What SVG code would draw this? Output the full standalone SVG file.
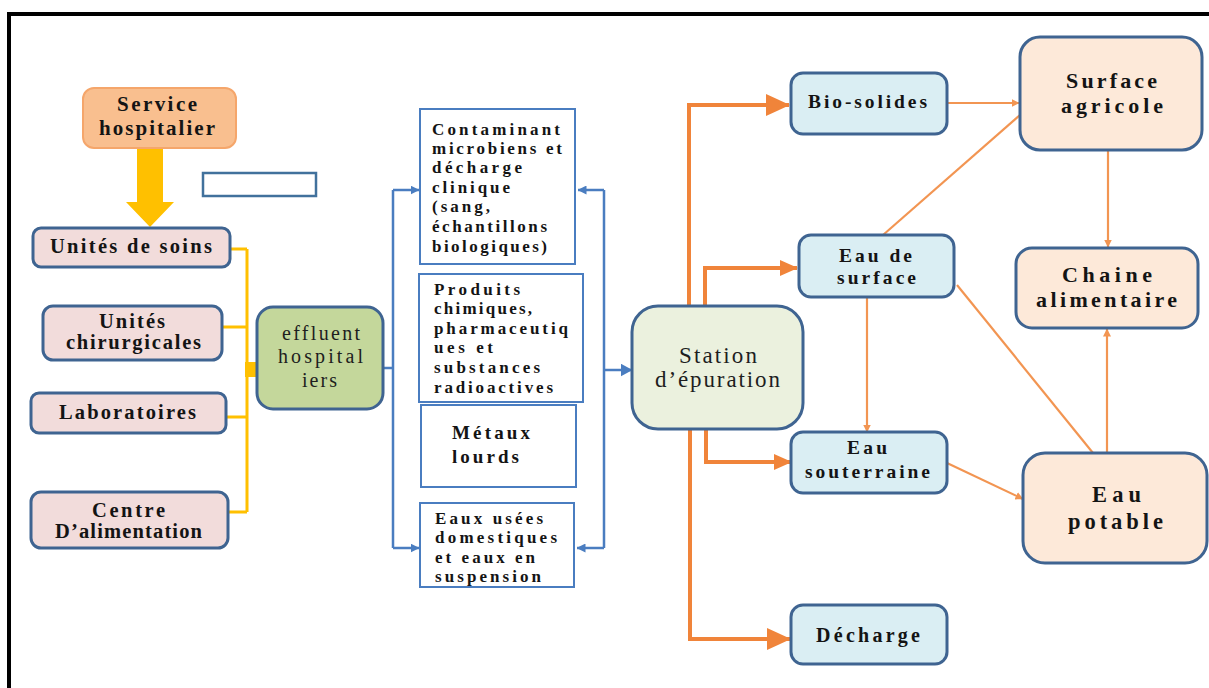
<svg xmlns="http://www.w3.org/2000/svg" width="1209" height="688" viewBox="0 0 1209 688">
<style>
.t{font-family:"Liberation Serif","Times New Roman",serif;font-weight:bold;fill:#141414;}
.n{font-family:"Liberation Serif","Times New Roman",serif;font-weight:normal;fill:#1e1e1e;}
.src{fill:#F2DCDB;stroke:#3F6491;stroke-width:3;}
.blu{fill:#DAEEF3;stroke:#3F6491;stroke-width:3;}
.pch{fill:#FDE9D9;stroke:#3F6491;stroke-width:3;}
.cat{fill:#FFFFFF;stroke:#4A7DC0;stroke-width:2;}
.yl{stroke:#FFC000;stroke-width:3;fill:none;}
.bl{stroke:#4A7DC0;stroke-width:2.5;fill:none;}
.ob{stroke:#F0843A;stroke-width:4;fill:none;}
.ot{stroke:#F29552;stroke-width:2.2;fill:none;}
</style>
<defs>
<marker id="mBig" markerUnits="userSpaceOnUse" markerWidth="24" markerHeight="24" viewBox="0 0 24 24" refX="23" refY="12" orient="auto"><path d="M0,1 L24,12 L0,23 z" fill="#F0843A"/></marker>
<marker id="mMed" markerUnits="userSpaceOnUse" markerWidth="18" markerHeight="16" viewBox="0 0 18 16" refX="17" refY="8" orient="auto"><path d="M0,0 L18,8 L0,16 z" fill="#F0843A"/></marker>
<marker id="mSm" markerUnits="userSpaceOnUse" markerWidth="8" markerHeight="8" viewBox="0 0 8 8" refX="7.5" refY="4" orient="auto"><path d="M0,0 L8,4 L0,8 z" fill="#F29552"/></marker>
<marker id="mBl" markerUnits="userSpaceOnUse" markerWidth="9" markerHeight="9" viewBox="0 0 9 9" refX="8.5" refY="4.5" orient="auto"><path d="M0,0 L9,4.5 L0,9 z" fill="#4A7DC0"/></marker>
<marker id="mBlBig" markerUnits="userSpaceOnUse" markerWidth="12" markerHeight="13" viewBox="0 0 12 13" refX="11.5" refY="6.5" orient="auto"><path d="M0,0 L12,6.5 L0,13 z" fill="#4A7DC0"/></marker>
</defs>
<rect x="0" y="0" width="1209" height="688" fill="#FFFFFF"/>
<rect x="9" y="14" width="1240" height="720" fill="none" stroke="#000" stroke-width="4"/>

<g id="connectors">
  <polygon points="137,148 163,148 163,202 174,202 150,227 126,202 137,202" fill="#FFC000"/>
  <path class="yl" d="M229,249 H247 M222,327 H247 M226,417 H247 M228,512 H247 M247,249 V512"/>
  <rect x="245" y="362" width="12" height="15" fill="#FFC000"/>
  <path class="bl" d="M383,368 H393 M393,190 V548 M604,190 V548"/>
  <path class="bl" d="M393,190 H419" marker-end="url(#mBl)"/>
  <path class="bl" d="M393,548 H419" marker-end="url(#mBl)"/>
  <path class="bl" d="M604,190 H578" marker-end="url(#mBl)"/>
  <path class="bl" d="M604,548 H577" marker-end="url(#mBl)"/>
  <path class="bl" d="M604,370 H632" stroke-width="4" marker-end="url(#mBlBig)"/>
  <path class="ob" d="M689,306 V105 H789" marker-end="url(#mBig)"/>
  <path class="ob" d="M705,306 V268 H797" marker-end="url(#mMed)"/>
  <path class="ob" d="M706,429 V462 H791" marker-end="url(#mMed)"/>
  <path class="ob" d="M690,429 V639 H790" marker-end="url(#mBig)"/>
  <path class="ot" d="M947,103 H1019" marker-end="url(#mSm)"/>
  <path class="ot" d="M883,235 L1020,115"/>
  <path class="ot" d="M957,285 L1093,453"/>
  <path class="ot" d="M947,463 L1023,499" marker-end="url(#mSm)"/>
  <path class="ot" d="M1108,150 V247" marker-end="url(#mSm)"/>
  <path class="ot" d="M1107,453 V329" marker-end="url(#mSm)"/>
  <path class="ot" d="M867,297 V432" marker-end="url(#mSm)"/>
</g>

<g id="service">
  <rect x="83" y="88" width="153" height="60" rx="11" fill="#F9BF8F" stroke="#F5A66B" stroke-width="2"/>
  <text class="t" x="117" y="111" font-size="21" textLength="80" lengthAdjust="spacing">Service</text>
  <text class="t" x="99" y="135" font-size="21" textLength="116" lengthAdjust="spacing">hospitalier</text>
</g>
<g id="blank">
  <rect x="203" y="173" width="113" height="23" fill="#FFFFFF" stroke="#41719C" stroke-width="2.5"/>
</g>
<g id="soins">
  <rect class="src" x="33" y="228" width="197" height="39" rx="8"/>
  <text class="t" x="50" y="253" font-size="20.5" textLength="162" lengthAdjust="spacing">Unités de soins</text>
</g>
<g id="chirurgicales">
  <rect class="src" x="43" y="306" width="179" height="54" rx="10"/>
  <text class="t" x="99" y="328" font-size="20.5" textLength="66" lengthAdjust="spacing">Unités</text>
  <text class="t" x="66" y="349" font-size="20.5" textLength="135" lengthAdjust="spacing">chirurgicales</text>
</g>
<g id="laboratoires">
  <rect class="src" x="31" y="393" width="195" height="40" rx="8"/>
  <text class="t" x="59" y="419" font-size="20.5" textLength="137" lengthAdjust="spacing">Laboratoires</text>
</g>
<g id="alimentation">
  <rect class="src" x="31" y="492" width="197" height="56" rx="10"/>
  <text class="t" x="92" y="517" font-size="20.5" textLength="73" lengthAdjust="spacing">Centre</text>
  <text class="t" x="55" y="538" font-size="20.5" textLength="147" lengthAdjust="spacing">D’alimentation</text>
</g>
<g id="effluent">
  <rect x="257" y="307" width="126" height="102" rx="16" fill="#C4D79B" stroke="#3F6491" stroke-width="3"/>
  <text class="n" x="282" y="340" font-size="20" textLength="78" lengthAdjust="spacing">effluent</text>
  <text class="n" x="278" y="363" font-size="20" textLength="85" lengthAdjust="spacing">hospital</text>
  <text class="n" x="302" y="387" font-size="20" textLength="35" lengthAdjust="spacing">iers</text>
</g>
<g id="contaminant">
  <rect class="cat" x="420" y="109" width="155" height="155"/>
  <text class="t" x="432" y="135" font-size="17" textLength="128" lengthAdjust="spacing">Contaminant</text>
  <text class="t" x="432" y="154" font-size="17" textLength="130" lengthAdjust="spacing">microbiens et</text>
  <text class="t" x="432" y="173" font-size="17" textLength="90" lengthAdjust="spacing">décharge</text>
  <text class="t" x="432" y="193" font-size="17" textLength="78" lengthAdjust="spacing">clinique</text>
  <text class="t" x="432" y="212" font-size="17" textLength="58" lengthAdjust="spacing">(sang,</text>
  <text class="t" x="432" y="232" font-size="17" textLength="115" lengthAdjust="spacing">échantillons</text>
  <text class="t" x="432" y="252" font-size="17" textLength="115" lengthAdjust="spacing">biologiques)</text>
</g>
<g id="produits">
  <rect class="cat" x="419" y="274" width="164" height="128"/>
  <text class="t" x="434" y="295" font-size="17" textLength="86" lengthAdjust="spacing">Produits</text>
  <text class="t" x="434" y="314" font-size="17" textLength="98" lengthAdjust="spacing">chimiques,</text>
  <text class="t" x="434" y="334" font-size="17" textLength="134" lengthAdjust="spacing">pharmaceutiq</text>
  <text class="t" x="434" y="353" font-size="17" textLength="59" lengthAdjust="spacing">ues et</text>
  <text class="t" x="434" y="373" font-size="17" textLength="106" lengthAdjust="spacing">substances</text>
  <text class="t" x="434" y="393" font-size="17" textLength="119" lengthAdjust="spacing">radioactives</text>
</g>
<g id="metaux">
  <rect class="cat" x="421" y="405" width="155" height="82"/>
  <text class="t" x="452" y="439" font-size="19" textLength="78" lengthAdjust="spacing">Métaux</text>
  <text class="t" x="452" y="463" font-size="19" textLength="67" lengthAdjust="spacing">lourds</text>
</g>
<g id="eaux-usees">
  <rect class="cat" x="420" y="503" width="154" height="84"/>
  <text class="t" x="435" y="524" font-size="17" textLength="108" lengthAdjust="spacing">Eaux usées</text>
  <text class="t" x="435" y="543" font-size="17" textLength="122" lengthAdjust="spacing">domestiques</text>
  <text class="t" x="435" y="563" font-size="17" textLength="100" lengthAdjust="spacing">et eaux en</text>
  <text class="t" x="435" y="582" font-size="17" textLength="106" lengthAdjust="spacing">suspension</text>
</g>
<g id="station">
  <rect x="632" y="306" width="171" height="123" rx="26" fill="#EBF1DE" stroke="#3F6491" stroke-width="3"/>
  <text class="n" x="679" y="363" font-size="23" textLength="78" lengthAdjust="spacing">Station</text>
  <text class="n" x="655" y="387" font-size="23" textLength="125" lengthAdjust="spacing">d’épuration</text>
</g>
<g id="biosolides">
  <rect class="blu" x="791" y="73" width="156" height="61" rx="12"/>
  <text class="t" x="808" y="108" font-size="19.5" textLength="119" lengthAdjust="spacing">Bio-solides</text>
</g>
<g id="eau-surface">
  <rect class="blu" x="799" y="235" width="155" height="62" rx="12"/>
  <text class="t" x="839" y="262" font-size="19.5" textLength="73" lengthAdjust="spacing">Eau de</text>
  <text class="t" x="837" y="284" font-size="19.5" textLength="79" lengthAdjust="spacing">surface</text>
</g>
<g id="eau-souterraine">
  <rect class="blu" x="791" y="432" width="156" height="61" rx="12"/>
  <text class="t" x="847" y="454" font-size="19.5" textLength="40" lengthAdjust="spacing">Eau</text>
  <text class="t" x="805" y="478" font-size="19.5" textLength="125" lengthAdjust="spacing">souterraine</text>
</g>
<g id="decharge">
  <rect class="blu" x="791" y="605" width="156" height="59" rx="12"/>
  <text class="t" x="816" y="642" font-size="20" textLength="104" lengthAdjust="spacing">Décharge</text>
</g>
<g id="surface-agricole">
  <rect class="pch" x="1020" y="37" width="182" height="113" rx="20"/>
  <text class="t" x="1066" y="88" font-size="22" textLength="91" lengthAdjust="spacing">Surface</text>
  <text class="t" x="1061" y="113" font-size="22" textLength="102" lengthAdjust="spacing">agricole</text>
</g>
<g id="chaine-alimentaire">
  <rect class="pch" x="1016" y="248" width="182" height="80" rx="16"/>
  <text class="t" x="1062" y="282" font-size="22" textLength="90" lengthAdjust="spacing">Chaine</text>
  <text class="t" x="1036" y="307" font-size="22" textLength="141" lengthAdjust="spacing">alimentaire</text>
</g>
<g id="eau-potable">
  <rect class="pch" x="1023" y="453" width="184" height="110" rx="22"/>
  <text class="t" x="1092" y="502" font-size="22.5" textLength="49" lengthAdjust="spacing">Eau</text>
  <text class="t" x="1068" y="529" font-size="22.5" textLength="95" lengthAdjust="spacing">potable</text>
</g>
</svg>
